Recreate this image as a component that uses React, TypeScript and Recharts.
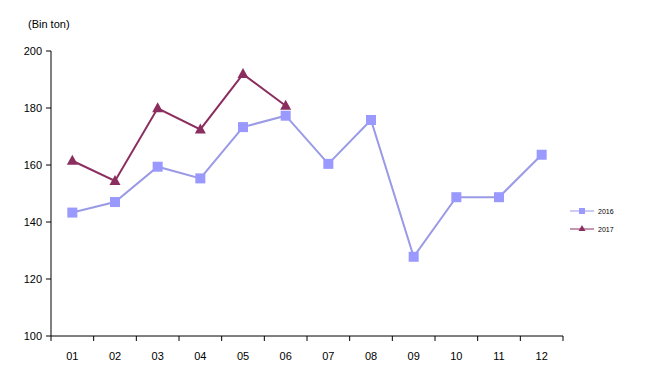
import React from "react";
import { LineChart, Line, XAxis, YAxis } from "recharts";

const months = ["01", "02", "03", "04", "05", "06", "07", "08", "09", "10", "11", "12"];
const values2016 = [143.3, 147, 159.4, 155.3, 173.3, 177.3, 160.4, 175.8, 127.8, 148.7, 148.7, 163.6];
const values2017: (number | null)[] = [161.5, 154.4, 179.9, 172.5, 191.9, 180.8, null, null, null, null, null, null];
const yTicks = [100, 120, 140, 160, 180, 200];

const data = months.map((m, i) => ({
  x: i + 1,
  month: m,
  y2016: values2016[i],
  y2017: values2017[i],
}));

const boundaryTicks = months.map((_, i) => i + 0.5).concat(months.length + 0.5);

const COLOR_2016 = "#9999FF";
const LINE_2016 = "#9A9AE6";
const COLOR_2017 = "#8B2E5F";
const FONT = "'Liberation Sans', Arial, sans-serif";

// square marker for 2016
const SquareDot = (props: any) => {
  const { cx, cy } = props;
  if (cx == null || cy == null) return null;
  return <rect x={cx - 5} y={cy - 5} width={10} height={10} fill={COLOR_2016} />;
};

// triangle marker for 2017
const TriangleDot = (props: any) => {
  const { cx, cy, value } = props;
  if (cx == null || cy == null || value == null) return null;
  return (
    <polygon
      points={`${cx},${cy - 6} ${cx + 5.5},${cy + 4} ${cx - 5.5},${cy + 4}`}
      fill={COLOR_2017}
    />
  );
};

export default function App() {
  return (
    <div style={{ position: "absolute", left: 0, top: 0, width: 664, height: 387, background: "#fff", fontFamily: FONT }}>
      <div style={{ position: "absolute", left: 28, top: 18, fontSize: 11, color: "#000" }}>(Bin ton)</div>
      <LineChart
        width={664}
        height={387}
        data={data}
        margin={{ top: 51, right: 101, bottom: 0, left: 0 }}
      >
        {/* axis line + tick marks on the category boundaries */}
        <XAxis
          dataKey="x"
          type="number"
          domain={[0.5, 12.5]}
          ticks={boundaryTicks}
          tickFormatter={() => ""}
          tickLine={{ stroke: "#000" }}
          tickSize={5}
          axisLine={{ stroke: "#000", strokeWidth: 1 }}
          height={1}
          allowDataOverflow
        />
        {/* month labels in the middle of each category */}
        <XAxis
          xAxisId="labels"
          dataKey="x"
          type="number"
          domain={[0.5, 12.5]}
          ticks={data.map((d) => d.x)}
          tickFormatter={(v) => months[v - 1]}
          tickLine={false}
          axisLine={false}
          tick={{ fill: "#000", fontSize: 11, fontFamily: FONT }}
          tickMargin={9}
          height={50}
          allowDataOverflow
        />
        <YAxis
          domain={[100, 200]}
          ticks={yTicks}
          width={51}
          tickSize={5}
          tickLine={{ stroke: "#000" }}
          axisLine={{ stroke: "#000", strokeWidth: 1 }}
          tick={{ fill: "#000", fontSize: 11, fontFamily: FONT }}
          tickMargin={4}
        />
        <Line
          dataKey="y2016"
          stroke={LINE_2016}
          strokeWidth={2}
          dot={<SquareDot />}
          activeDot={false}
          isAnimationActive={false}
        />
        <Line
          dataKey="y2017"
          stroke={COLOR_2017}
          strokeWidth={2}
          dot={<TriangleDot />}
          activeDot={false}
          isAnimationActive={false}
        />
      </LineChart>
      <svg style={{ position: "absolute", left: 568, top: 203 }} width={60} height={34}>
        <line x1={2} y1={8} x2={26} y2={8} stroke={LINE_2016} strokeWidth={1} />
        <rect x={11} y={5} width={6} height={6} fill={COLOR_2016} />
        <text x={30} y={11} fontSize={7} fontFamily={FONT} fill="#000">2016</text>
        <line x1={2} y1={26} x2={26} y2={26} stroke={COLOR_2017} strokeWidth={1} />
        <polygon points="14,22 17.5,28 10.5,28" fill={COLOR_2017} />
        <text x={30} y={29} fontSize={7} fontFamily={FONT} fill="#000">2017</text>
      </svg>
    </div>
  );
}
